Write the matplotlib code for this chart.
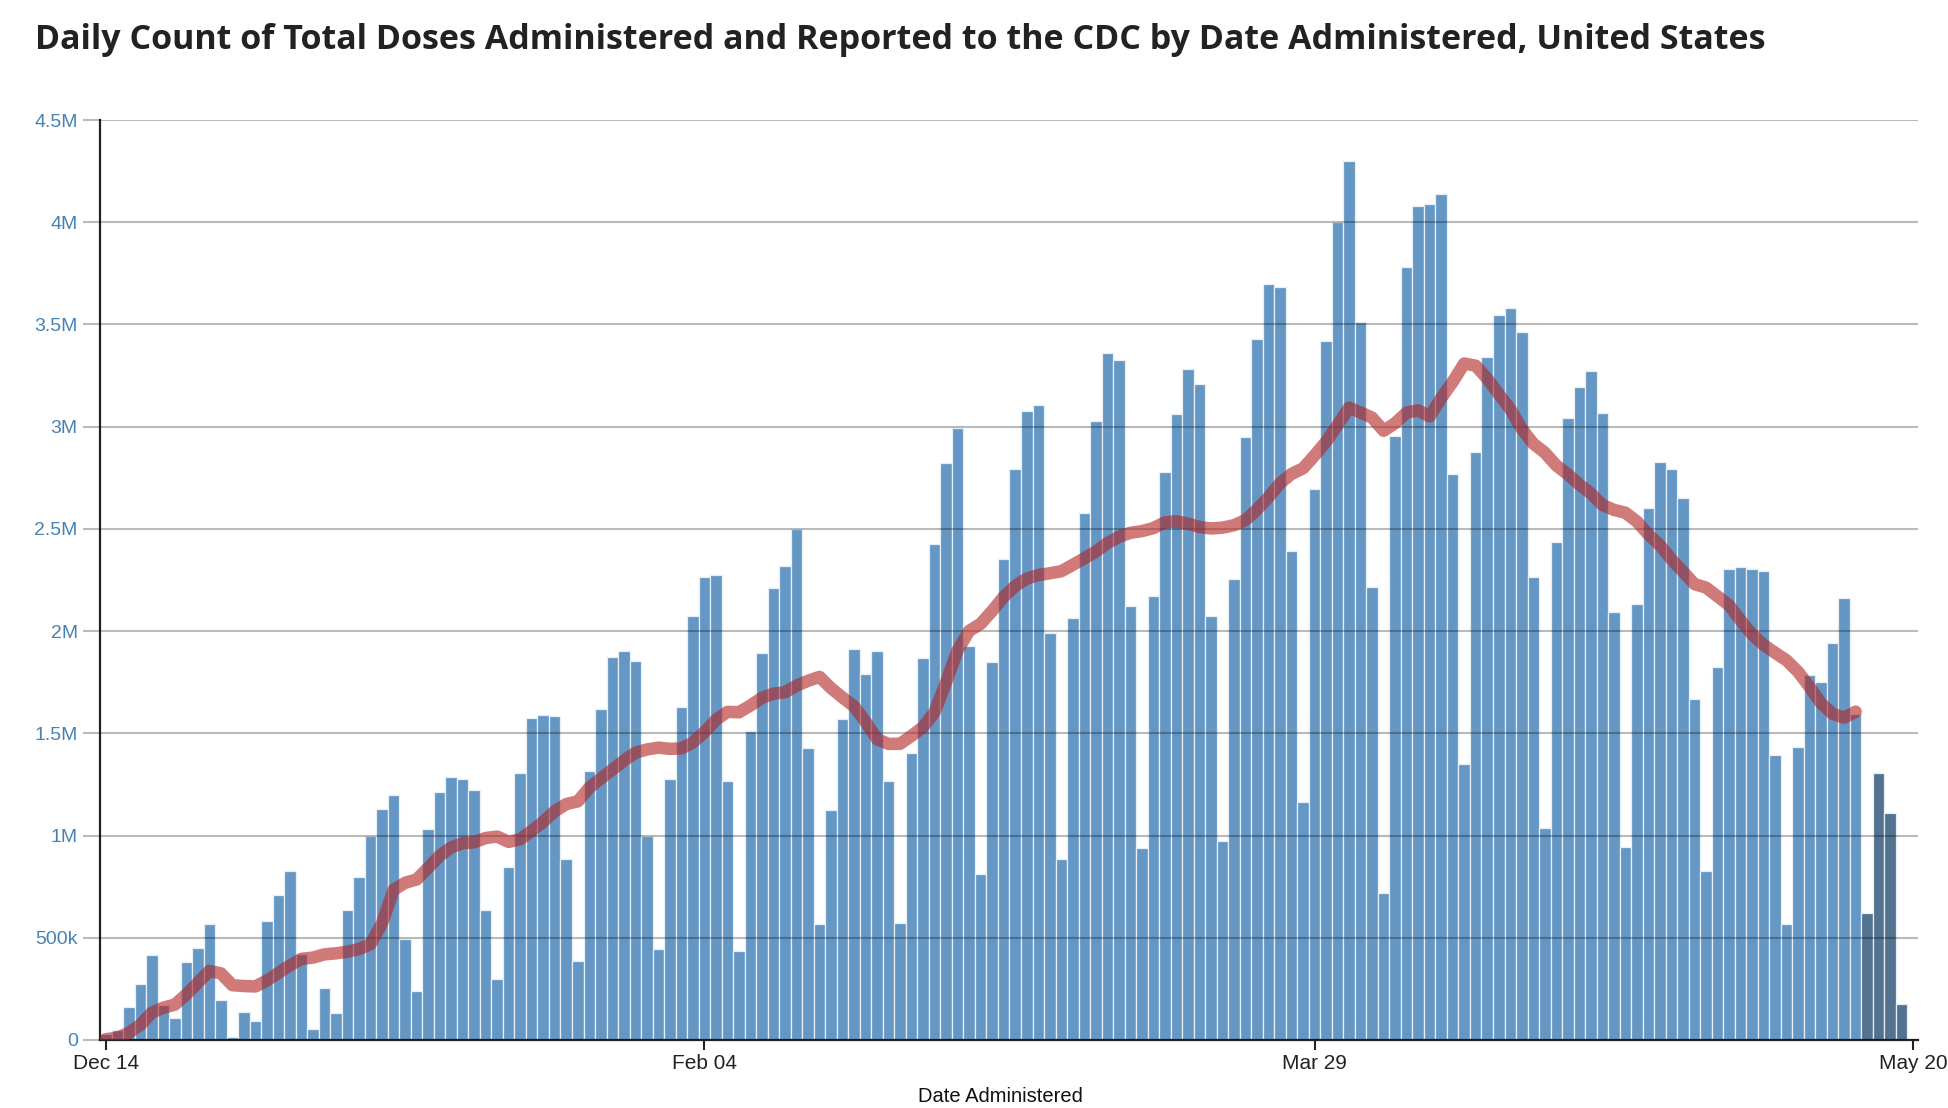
import matplotlib
matplotlib.use('Agg')
import matplotlib.pyplot as plt
import pandas as pd

start_date = '2020-12-14'

# Daily doses administered (millions), Dec 14 2020 .. May 19 2021
doses_m = [
    0.03, 0.05, 0.163, 0.275, 0.417, 0.17, 0.106, 0.38, 0.448, 0.567,
    0.194, 0.013, 0.139, 0.095, 0.58, 0.707, 0.827, 0.42, 0.052, 0.252,
    0.131, 0.634, 0.799, 0.997, 1.131, 1.196, 0.493, 0.242, 1.034, 1.214,
    1.286, 1.278, 1.222, 0.637, 0.296, 0.847, 1.306, 1.573, 1.589, 1.583,
    0.886, 0.384, 1.318, 1.620, 1.871, 1.902, 1.854, 0.998, 0.447, 1.279,
    1.628, 2.074, 2.265, 2.274, 1.265, 0.435, 1.509, 1.895, 2.212, 2.317,
    2.499, 1.429, 0.568, 1.126, 1.572, 1.912, 1.791, 1.901, 1.268, 0.570,
    1.403, 1.869, 2.428, 2.820, 2.993, 1.926, 0.811, 1.849, 2.351, 2.795,
    3.077, 3.106, 1.989, 0.883, 2.065, 2.579, 3.027, 3.360, 3.327, 2.124,
    0.941, 2.171, 2.777, 3.061, 3.282, 3.207, 2.074, 0.971, 2.254, 2.949,
    3.430, 3.700, 3.683, 2.394, 1.162, 2.696, 3.419, 4.001, 4.299, 3.511,
    2.217, 0.720, 2.954, 3.782, 4.077, 4.091, 4.139, 2.769, 1.348, 2.878,
    3.343, 3.548, 3.579, 3.461, 2.265, 1.035, 2.437, 3.044, 3.196, 3.274,
    3.067, 2.095, 0.942, 2.131, 2.603, 2.825, 2.791, 2.649, 1.666, 0.828,
    1.825, 2.302, 2.313, 2.306, 2.293, 1.392, 0.567, 1.431, 1.787, 1.752,
    1.944, 2.164, 1.597, 0.621, 1.308, 1.110, 0.175,
]

# 7-day average line (millions), Dec 14 2020 .. May 15 2021
avg7_m = [
    0.004, 0.011, 0.035, 0.074, 0.134, 0.158, 0.173, 0.223, 0.280, 0.338,
    0.326, 0.268, 0.264, 0.262, 0.291, 0.328, 0.365, 0.397, 0.403, 0.419,
    0.424, 0.432, 0.445, 0.469, 0.571, 0.734, 0.769, 0.785, 0.842, 0.901,
    0.942, 0.963, 0.967, 0.988, 0.995, 0.969, 0.982, 1.023, 1.067, 1.119,
    1.154, 1.167, 1.234, 1.279, 1.322, 1.366, 1.405, 1.421, 1.430, 1.424,
    1.426, 1.455, 1.506, 1.566, 1.605, 1.603, 1.636, 1.674, 1.694, 1.701,
    1.733, 1.757, 1.776, 1.721, 1.675, 1.632, 1.557, 1.471, 1.448, 1.449,
    1.488, 1.531, 1.604, 1.751, 1.907, 2.001, 2.036, 2.099, 2.168, 2.221,
    2.257, 2.274, 2.283, 2.293, 2.324, 2.356, 2.389, 2.430, 2.461, 2.481,
    2.489, 2.504, 2.532, 2.537, 2.526, 2.509, 2.502, 2.506, 2.518, 2.543,
    2.595, 2.655, 2.723, 2.769, 2.796, 2.859, 2.926, 3.008, 3.093, 3.069,
    3.044, 2.980, 3.017, 3.069, 3.080, 3.050, 3.140, 3.219, 3.309, 3.298,
    3.235, 3.159, 3.086, 2.989, 2.917, 2.873, 2.810, 2.767, 2.717, 2.673,
    2.617, 2.593, 2.579, 2.536, 2.473, 2.420, 2.351, 2.291, 2.230, 2.213,
    2.170, 2.127, 2.053, 1.984, 1.933, 1.894, 1.857, 1.801, 1.727, 1.647,
    1.595, 1.577, 1.606,
]

n_incomplete = 4  # last days shown darker

x_tick_dates = ['2020-12-14', '2021-02-04', '2021-03-29', '2021-05-20']
x_tick_labels = ['Dec 14', 'Feb 04', 'Mar 29', 'May 20']
y_ticks = [0, 0.5, 1, 1.5, 2, 2.5, 3, 3.5, 4, 4.5]
y_tick_labels = ['0', '500k', '1M', '1.5M', '2M', '2.5M', '3M', '3.5M', '4M', '4.5M']

title = ('Daily Count of Total Doses Administered and Reported to the CDC '
         'by Date Administered, United States')
x_label = 'Date Administered'

dates = pd.date_range(start_date, periods=len(doses_m), freq='D')
avg_dates = dates[:len(avg7_m)]

W, H = 1948, 1108
fig = plt.figure(figsize=(W / 100, H / 100), dpi=100)
ax = fig.add_axes([100 / W, 1 - 1040 / H, (1918 - 100) / W, (1040 - 120) / H])

colors = ['#6497c4'] * (len(doses_m) - n_incomplete) + ['#52728f'] * n_incomplete
ax.bar(dates, doses_m, width=1.0, color=colors, edgecolor='#e6eef6',
       linewidth=0.9, zorder=1)
ax.plot(avg_dates, avg7_m, color='#b22222', alpha=0.6, lw=9,
        solid_capstyle='round', solid_joinstyle='round', zorder=3)

ax.set_xlim(dates[0] - pd.Timedelta(hours=12),
            pd.Timestamp('2021-05-20') + pd.Timedelta(hours=10))
ax.set_ylim(0, 4.5)

ax.set_xticks(pd.to_datetime(x_tick_dates))
ax.set_xticklabels(x_tick_labels, family='Liberation Sans', fontsize=15, color='#222222')
ax.set_yticks(y_ticks)
ax.set_yticklabels(y_tick_labels, family='Liberation Sans', fontsize=14)

ax.set_axisbelow(False)
ax.yaxis.grid(True, color='black', alpha=0.27, lw=1.5)
ax.xaxis.grid(False)

for s in ('top', 'right'):
    ax.spines[s].set_visible(False)
for s in ('left', 'bottom'):
    ax.spines[s].set_color('#222222')
    ax.spines[s].set_linewidth(1.6)

ax.tick_params(axis='y', length=12, width=1.5, color=(0, 0, 0, 0.27),
               labelcolor='#4682b4', pad=4)
ax.tick_params(axis='x', length=7, width=1.5, color='#222222', pad=3)

fig.text(35 / W, 1 - 40 / H, title, ha='left', va='center',
         family='Open Sans', fontweight='bold', fontsize=24.5, color='#222222')
fig.text(1000 / W, 1 - 1097 / H, x_label, ha='center', va='center',
         family='Liberation Sans', fontsize=14.5, color='#111111')

fig.savefig('out.png', dpi=100)
